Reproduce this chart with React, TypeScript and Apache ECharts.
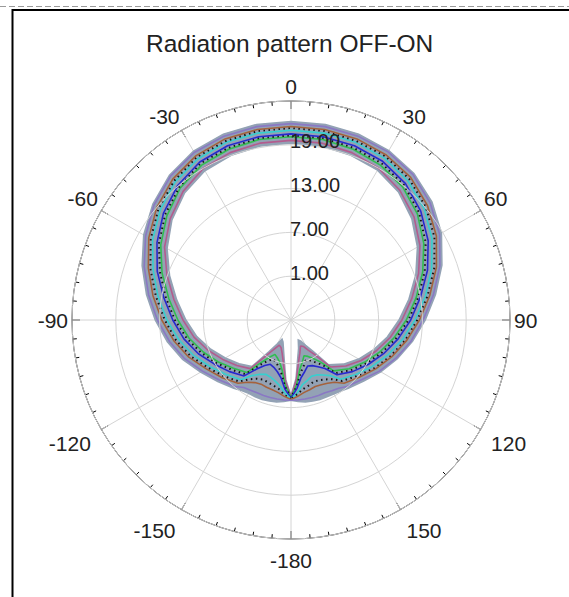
import React, { useEffect, useRef } from 'react';
import * as echarts from 'echarts';

// Angles (degrees, 0 at top, clockwise) at which the pattern was read
const angles = [
  -180, -175, -170, -165, -160, -155, -150, -145, -140, -130, -120, -110, -100, -90, -80, -70, -60, -50, -40, -30, -20, -10,
  0, 10, 20, 30, 40, 50, 60, 70, 80, 90, 100, 110, 120, 130, 140, 145, 150, 155, 160, 165, 170, 175, 180,
];

// Envelope of the bundle of traces
const outerEnvelope = [6.0, 6.2, 6.4, 6.5, 6.6, 6.6, 6.6, 6.8, 7.2, 8.1, 9.3, 10.8, 12.2, 13.6, 15.1, 16.7, 18.3, 19.7, 20.9, 21.7, 22.1, 22.2, 22.2, 22.2, 22.1, 21.8, 21.2, 20.2, 18.8, 17.0, 15.1, 13.4, 11.9, 10.5, 9.2, 8.0, 7.2, 6.9, 6.7, 6.6, 6.6, 6.5, 6.4, 6.2, 6.0];
const innerEnvelope = [5.4, 3.2, 0.4, -1.0, -1.8, -2.1, -1.2, 0.3, 3.3, 4.3, 5.4, 6.7, 8.1, 9.4, 10.9, 12.7, 14.6, 16.3, 17.7, 18.6, 19.0, 19.2, 19.2, 19.2, 19.0, 18.7, 17.9, 16.6, 15.0, 13.2, 11.4, 9.8, 8.4, 7.0, 5.7, 4.4, 3.0, 0.2, -1.0, -1.8, -2.1, -1.0, 0.3, 3.0, 5.4];

// Individual traces inside the bundle
const trace1 = [5.5, 3.5, 1.0, -0.3, -1.0, -1.2, -0.4, 1.0, 3.7, 4.7, 5.8, 7.1, 8.5, 9.8, 11.3, 13.1, 15.0, 16.6, 18.0, 19.0, 19.4, 19.6, 19.6, 19.6, 19.4, 19.0, 18.2, 17.0, 15.4, 13.6, 11.8, 10.2, 8.8, 7.4, 6.1, 4.8, 3.4, 0.9, -0.2, -1.0, -1.2, -0.3, 0.9, 3.3, 5.5];
const trace2 = [5.6, 4.0, 2.0, 1.0, 0.5, 0.2, 0.9, 2.1, 4.4, 5.3, 6.5, 7.8, 9.2, 10.5, 12.0, 13.8, 15.6, 17.2, 18.6, 19.5, 19.9, 20.1, 20.1, 20.1, 19.9, 19.5, 18.8, 17.6, 16.0, 14.2, 12.4, 10.8, 9.3, 7.9, 6.6, 5.4, 4.1, 2.0, 1.1, 0.5, 0.2, 1.0, 1.9, 3.9, 5.6];
const trace3 = [5.6, 4.2, 2.5, 1.6, 1.1, 0.9, 1.5, 2.6, 4.7, 5.6, 6.8, 8.1, 9.5, 10.9, 12.4, 14.1, 15.9, 17.5, 18.8, 19.8, 20.1, 20.3, 20.3, 20.3, 20.1, 19.8, 19.1, 17.9, 16.3, 14.5, 12.7, 11.1, 9.6, 8.2, 6.9, 5.7, 4.5, 2.5, 1.7, 1.1, 0.9, 1.6, 2.4, 4.1, 5.6];
const trace4 = [5.7, 4.5, 3.0, 2.3, 1.9, 1.7, 2.2, 3.2, 5.0, 6.0, 7.1, 8.5, 9.9, 11.2, 12.7, 14.5, 16.2, 17.8, 19.1, 20.0, 20.4, 20.5, 20.5, 20.5, 20.4, 20.1, 19.4, 18.2, 16.7, 14.9, 13.0, 11.4, 9.9, 8.5, 7.2, 6.0, 4.8, 3.1, 2.4, 1.9, 1.7, 2.3, 3.0, 4.4, 5.7];
const trace5 = [5.8, 5.0, 4.1, 3.6, 3.3, 3.2, 3.6, 4.3, 5.7, 6.6, 7.8, 9.2, 10.6, 12.0, 13.5, 15.1, 16.9, 18.4, 19.7, 20.5, 20.9, 21.0, 21.0, 21.0, 20.9, 20.6, 19.9, 18.8, 17.3, 15.5, 13.7, 12.0, 10.5, 9.1, 7.8, 6.6, 5.6, 4.3, 3.7, 3.3, 3.2, 3.6, 4.0, 5.0, 5.8];
const trace6 = [5.8, 5.3, 4.6, 4.3, 4.1, 4.0, 4.3, 4.9, 6.0, 7.0, 8.1, 9.6, 11.0, 12.3, 13.8, 15.5, 17.2, 18.7, 19.9, 20.8, 21.1, 21.3, 21.3, 21.3, 21.1, 20.9, 20.2, 19.1, 17.7, 15.9, 14.0, 12.3, 10.9, 9.5, 8.2, 6.9, 5.9, 4.9, 4.4, 4.1, 4.0, 4.3, 4.6, 5.2, 5.8];
const trace7 = [5.9, 5.5, 5.1, 4.9, 4.8, 4.7, 4.9, 5.4, 6.3, 7.3, 8.4, 9.9, 11.3, 12.7, 14.2, 15.8, 17.5, 19.0, 20.2, 21.0, 21.4, 21.5, 21.5, 21.5, 21.4, 21.1, 20.5, 19.4, 18.0, 16.2, 14.3, 12.6, 11.1, 9.7, 8.4, 7.2, 6.3, 5.4, 5.0, 4.8, 4.7, 4.9, 5.1, 5.5, 5.9];
const trace8 = [6.0, 6.0, 6.0, 6.0, 6.0, 6.0, 6.1, 6.3, 6.9, 7.8, 9.0, 10.5, 11.9, 13.3, 14.8, 16.4, 18.0, 19.5, 20.7, 21.5, 21.8, 21.9, 21.9, 21.9, 21.8, 21.6, 21.0, 19.9, 18.5, 16.7, 14.8, 13.1, 11.7, 10.3, 9.0, 7.7, 6.9, 6.4, 6.2, 6.0, 6.0, 6.0, 6.0, 6.0, 6.0];

// Axis tick labels
const radiusTickValues = [1, 7, 13, 19];
const radiusTickLabels = ['1.00', '7.00', '13.00', '19.00'];
const angleTickLabels = ['0', '30', '60', '90', '120', '150', '-180', '-150', '-120', '-90', '-60', '-30', ''];

const titleText = 'Radiation pattern OFF-ON';

const FONT = '"Liberation Sans", Arial, Helvetica, sans-serif';
const toAxisAngle = (a: number) => (a + 360) % 360;

const traceStyles = [
  { values: trace1, color: '#b35c8e', type: 'solid' },
  { values: trace2, color: '#2fbf4f', type: 'solid' },
  { values: trace3, color: '#151515', type: 'dotted' },
  { values: trace4, color: '#2828d0', type: 'solid' },
  { values: trace5, color: '#35d0d0', type: 'solid' },
  { values: trace6, color: '#151515', type: 'dotted' },
  { values: trace7, color: '#a5623c', type: 'solid' },
  { values: trace8, color: '#8a78c4', type: 'solid' },
];

export default function App() {
  const ref = useRef<HTMLDivElement>(null);

  useEffect(() => {
    if (!ref.current) return;
    const chart = echarts.init(ref.current, null, { renderer: 'svg' });

    const bandSeries = {
      type: 'custom',
      coordinateSystem: 'polar',
      silent: true,
      z: 2,
      data: [[outerEnvelope[0], toAxisAngle(angles[0])]],
      renderItem: (params: any, api: any) => {
        if (params.dataIndex !== 0) return null;
        const pts: number[][] = [];
        for (let i = 0; i < angles.length; i++) {
          pts.push(api.coord([outerEnvelope[i], toAxisAngle(angles[i])]));
        }
        for (let i = angles.length - 1; i >= 0; i--) {
          pts.push(api.coord([innerEnvelope[i], toAxisAngle(angles[i])]));
        }
        return {
          type: 'polygon',
          shape: { points: pts },
          style: { fill: '#93a2b5', stroke: '#93a2b5', lineWidth: 1.5 },
        };
      },
    };

    const lineSeries = traceStyles.map((t, k) => ({
      type: 'line',
      coordinateSystem: 'polar',
      showSymbol: false,
      silent: true,
      z: 3 + k * 0.01,
      lineStyle: {
        color: t.color,
        width: t.type === 'dotted' ? 2 : 1.6,
        type: t.type === 'dotted' ? [1.5, 3.5] : 'solid',
      },
      data: t.values.map((v, i) => [v, toAxisAngle(angles[i])]),
    }));

    const option: any = {
      animation: false,
      backgroundColor: '#ffffff',
      title: {
        text: titleText,
        left: 141,
        top: 26,
        textStyle: { fontFamily: FONT, fontSize: 24.5, fontWeight: 'normal', color: '#222' },
      },
      polar: { center: [291, 320], radius: 219 },
      angleAxis: {
        type: 'value',
        min: 0,
        max: 360,
        interval: 30,
        startAngle: 90,
        clockwise: true,
        axisLine: { show: true, lineStyle: { color: '#000', width: 1 } },
        axisTick: { show: true, inside: true, length: 8, lineStyle: { color: '#000', width: 1 } },
        minorTick: { show: true, splitNumber: 6, length: 4, lineStyle: { color: '#000', width: 1 } },
        splitLine: { show: true, lineStyle: { color: '#d4d4d4', width: 1 } },
        axisLabel: {
          margin: 4,
          fontFamily: FONT,
          fontSize: 21,
          color: '#222',
          formatter: (v: number) => {
            const idx = Math.round(v / 30);
            const label = angleTickLabels[idx] ?? '';
            if (!label) return '';
            if (idx >= 5 && idx <= 7) return '{lo|' + label + '}';
            if (idx === 4 || idx === 8) return '{mid|' + label + '}';
            return label;
          },
          rich: {
            lo: { fontFamily: FONT, fontSize: 21, color: '#222', padding: [7, 4, 0, 4] },
            mid: { fontFamily: FONT, fontSize: 21, color: '#222', padding: [1, 7, 0, 7] },
          },
        },
      },
      radiusAxis: {
        type: 'value',
        min: -5,
        max: 25,
        interval: 6,
        z: 10,
        axisLine: { show: false },
        axisTick: { show: false },
        splitLine: { show: true, lineStyle: { color: '#d4d4d4', width: 1 } },
        axisLabel: {
          margin: 1,
          align: 'left',
          verticalAlign: 'middle',
          fontFamily: FONT,
          fontSize: 20,
          color: '#222',
          formatter: (v: number) => {
            const idx = radiusTickValues.indexOf(Math.round(v));
            return idx >= 0 ? '{r|' + radiusTickLabels[idx] + '}' : '';
          },
          rich: {
            r: { fontFamily: FONT, fontSize: 20, color: '#222', padding: [0, 0, 7, 0] },
          },
        },
      },
      graphic: [
        {
          type: 'line',
          silent: true,
          shape: { x1: 0, y1: 6.5, x2: 569, y2: 6.5 },
          style: { stroke: '#9a9a9a', lineWidth: 1, lineDash: [6, 3] },
        },
        {
          type: 'line',
          silent: true,
          shape: { x1: 12, y1: 10, x2: 569, y2: 10 },
          style: { stroke: '#000', lineWidth: 2 },
        },
        {
          type: 'line',
          silent: true,
          shape: { x1: 12.5, y1: 9, x2: 12.5, y2: 597 },
          style: { stroke: '#000', lineWidth: 2 },
        },
      ],
      series: [bandSeries, ...lineSeries],
    };

    chart.setOption(option);
    return () => chart.dispose();
  }, []);

  return (
    <div
      ref={ref}
      style={{ position: 'absolute', left: 0, top: 0, width: 569, height: 597, background: '#fff' }}
    />
  );
}
